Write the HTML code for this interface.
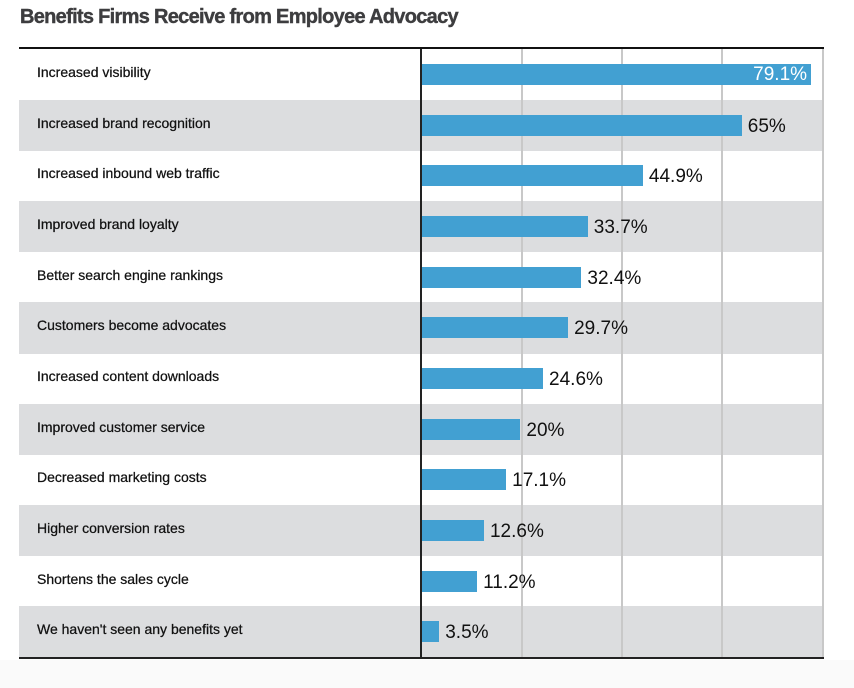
<!DOCTYPE html>
<html><head><style>
body{margin:0;width:854px;height:688px;background:#fff;font-family:"Liberation Sans",sans-serif;position:relative;overflow:hidden}
.t{position:absolute;left:20px;top:6px;font-size:20px;font-weight:bold;color:#3d3d3f;letter-spacing:-0.7px;-webkit-text-stroke:0.4px #3d3d3f}
.row{position:absolute;left:19px;width:804px;height:51px}
.g{background:#dcdddf}
.lab{position:absolute;left:37px;font-size:14px;color:#111;-webkit-text-stroke:0.25px #111}
.bar{position:absolute;left:422px;height:21px;background:#42a0d2}
.val{position:absolute;font-size:19px;color:#111}
.v{position:absolute;width:2px;background:#c8c8c8;top:49px;height:609px}
</style></head><body>
<div class="t">Benefits Firms Receive from Employee Advocacy</div>
<div style="position:absolute;left:0;top:660px;width:854px;height:28px;background:#fafafa"></div>
<div id="c"></div>
<script>
const d=[["Increased visibility",79.1],["Increased brand recognition",65],["Increased inbound web traffic",44.9],["Improved brand loyalty",33.7],["Better search engine rankings",32.4],["Customers become advocates",29.7],["Increased content downloads",24.6],["Improved customer service",20],["Decreased marketing costs",17.1],["Higher conversion rates",12.6],["Shortens the sales cycle",11.2],["We haven't seen any benefits yet",3.5]];
let h='';
const R=50.67;
d.forEach((r,i)=>{const top=49+i*R;
h+=`<div class="row${i%2?' g':''}" style="top:${top}px;height:${R+0.5}px"></div>`;});
h+='<div class="v" style="left:521px"></div><div class="v" style="left:621px"></div><div class="v" style="left:721px"></div><div class="v" style="left:822px"></div>';
d.forEach((r,i)=>{const top=49+i*R;const w=r[1]*4.92;
h+=`<div class="lab" style="top:${top+15}px">${r[0]}</div>`;
h+=`<div class="bar" style="top:${top+15}px;width:${w}px"></div>`;
if(i==0)h+=`<div class="val" style="top:${top+15}px;left:${422+w-58}px;color:#fff">${r[1]}%</div>`;
else h+=`<div class="val" style="top:${top+16}px;left:${428+w}px">${r[1]}%</div>`;});
h+='<div style="position:absolute;left:19px;top:47px;width:805px;height:2px;background:#111"></div>';
h+='<div style="position:absolute;left:19px;top:657px;width:805px;height:2px;background:#222"></div>';
h+='<div style="position:absolute;left:420px;top:49px;width:2px;height:609px;background:#222"></div>';
document.getElementById('c').innerHTML=h;
</script>
</body></html>
